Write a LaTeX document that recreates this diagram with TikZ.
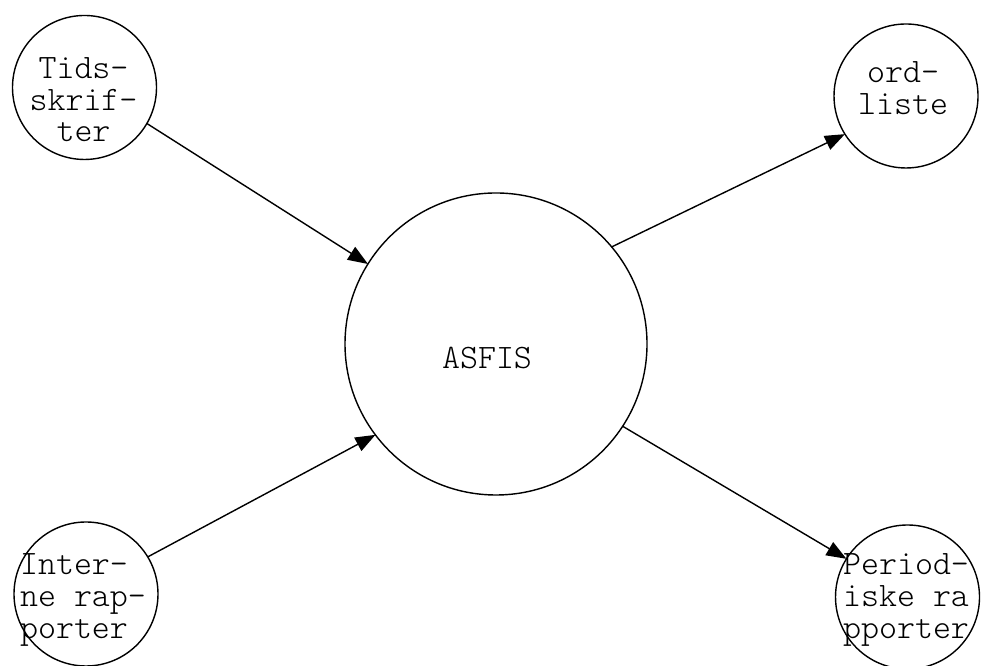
\documentclass[tikz,border=0pt]{standalone}
\usepackage{fontspec}
\setmonofont{Latin Modern Mono Light}
\usetikzlibrary{arrows.meta}

\begin{document}
\begin{tikzpicture}[
	smallcirc/.style={draw,circle,line width=0.8pt,inner sep=0pt,outer sep=0pt,minimum size=2.88cm},
	bigcirc/.style={draw,circle,line width=0.8pt,inner sep=0pt,outer sep=0pt,minimum size=6.04cm},
	lbl/.style={inner sep=0pt,font=\ttfamily\fontsize{19.5pt}{18pt}\selectfont},
	flow/.style={line width=0.8pt,-{Triangle[length=0.4cm,width=0.3cm]}}]
	\useasboundingbox (0,0) rectangle (19.64,13.32);
	\node[bigcirc](asfis) at (9.92,6.44){};
	\node[smallcirc](tids) at (1.69,11.57){};
	\node[smallcirc](intern) at (1.72,1.44){};
	\node[smallcirc](ord) at (18.12,11.40){};
	\node[smallcirc](period) at (18.15,1.38){};
	% texts
	\node[lbl,align=center] at ([xshift=-0.02cm,yshift=-0.25cm]tids.center){Tids-\\skrif-\\ter};
	\node[lbl,align=left] at ([xshift=-0.06cm,yshift=-0.12cm]intern.center){Inter-\\ne rap-\\porter};
	\node[lbl,align=center] at ([xshift=-0.06cm,yshift=0.16cm]ord.center){ord-\\liste};
	\node[lbl,align=left] at ([xshift=-0.03cm,yshift=-0.06cm]period.center){Period-\\iske ra\\pporter};
	\node[lbl] at ([xshift=-0.18cm,yshift=-0.28cm]asfis.center){ASFIS};
	% flows
	\draw[flow](tids.330)--(asfis.148);
	\draw[flow](intern.31)--(asfis.217);
	\draw[flow](asfis.40)--(ord.212);
	\draw[flow](asfis.327)--(period.148);
\end{tikzpicture}
\end{document}
